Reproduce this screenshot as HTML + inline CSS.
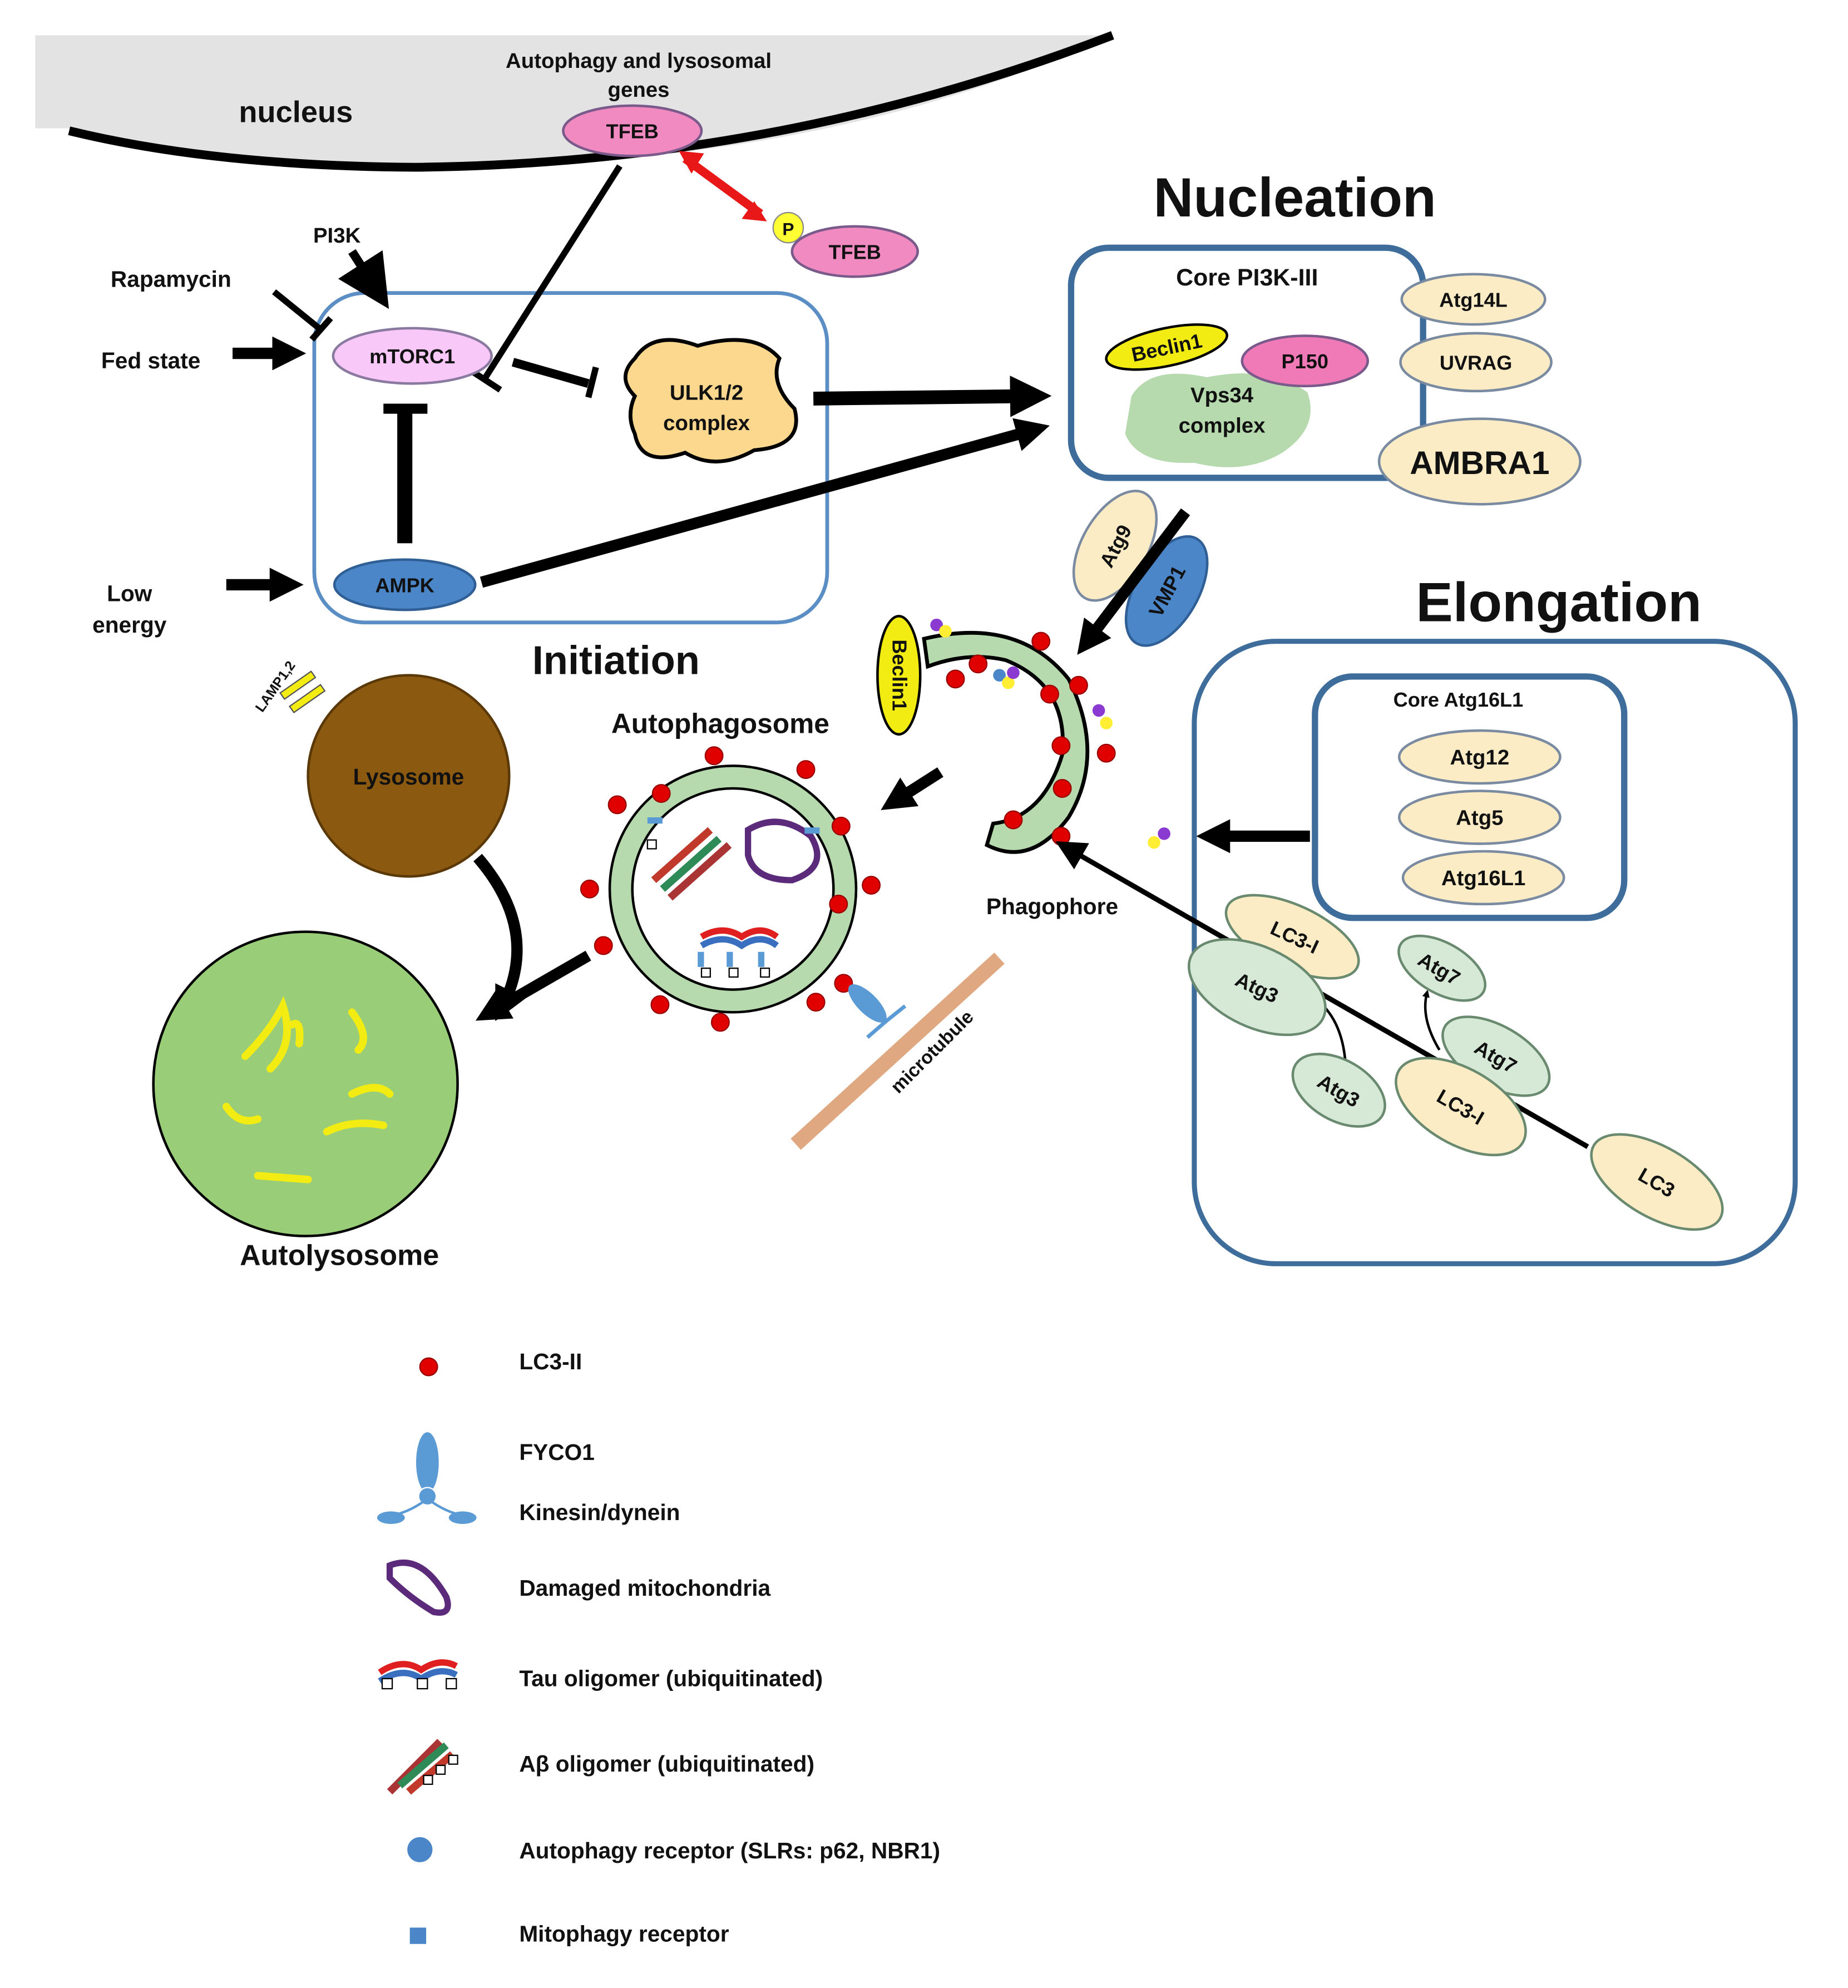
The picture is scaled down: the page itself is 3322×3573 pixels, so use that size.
<!DOCTYPE html>
<html><head><meta charset="utf-8"><style>
html,body{margin:0;padding:0;background:#fff}
svg{display:block}
text{font-family:"Liberation Sans",sans-serif;font-weight:bold;fill:#111}
</style></head><body>
<svg width="3322" height="3573" viewBox="0 0 1470 1581" xmlns="http://www.w3.org/2000/svg">
<defs>
<marker id="ah" viewBox="0 0 10 10" refX="5" refY="5" markerWidth="3" markerHeight="3" orient="auto"><path d="M0,0 L10,5 L0,10 z" fill="#000"/></marker>
<marker id="ahs" viewBox="0 0 10 10" refX="5" refY="5" markerWidth="6" markerHeight="6" orient="auto"><path d="M0,0 L10,5 L0,10 z" fill="#000"/></marker>
</defs>
<!-- nucleus -->
<path d="M28,28 L885,28 Q640,140 300,132 Q150,126 55,102 L28,102 Z" fill="#e3e3e3"/>
<path d="M55,104 Q170,132 330,133 Q620,130 885,28" fill="none" stroke="#000" stroke-width="7"/>
<text x="190" y="97" font-size="24">nucleus</text>
<text x="508" y="54" font-size="17" text-anchor="middle">Autophagy  and lysosomal</text>
<text x="508" y="77" font-size="17" text-anchor="middle">genes</text>
<ellipse cx="503" cy="104" rx="55" ry="20" fill="#f08ac0" stroke="#7a5a8a" stroke-width="2"/>
<text x="503" y="110" font-size="16" text-anchor="middle">TFEB</text>
<!-- red arrow -->
<path d="M545,126 L605,170" stroke="#e81818" stroke-width="7"/>
<path d="M540,120 L560,122 L550,138 Z M610,176 L590,174 L600,160 Z" fill="#e81818"/>
<circle cx="627" cy="181" r="12" fill="#ffff33" stroke="#888"/><text x="627" y="187" font-size="14" text-anchor="middle">P</text>
<ellipse cx="680" cy="200" rx="50" ry="20" fill="#f08ac0" stroke="#7a5a8a" stroke-width="2"/>
<text x="680" y="206" font-size="16" text-anchor="middle">TFEB</text>
<!-- Initiation box -->
<rect x="250" y="233" width="408" height="262" rx="40" fill="none" stroke="#5b8ec4" stroke-width="3"/>
<text x="490" y="536" font-size="32" text-anchor="middle">Initiation</text>
<line x1="493" y1="132" x2="385" y2="302" stroke="#000" stroke-width="5"/>
<line x1="372" y1="293" x2="398" y2="310" stroke="#000" stroke-width="5"/>
<text x="268" y="193" font-size="17" text-anchor="middle">PI3K</text>
<line x1="280" y1="200" x2="298" y2="228" stroke="#000" stroke-width="7" marker-end="url(#ahs)"/>
<text x="136" y="228" font-size="18" text-anchor="middle">Rapamycin</text>
<line x1="218" y1="232" x2="255" y2="262" stroke="#000" stroke-width="5"/>
<line x1="248" y1="270" x2="263" y2="253" stroke="#000" stroke-width="5"/>
<text x="120" y="293" font-size="18" text-anchor="middle">Fed state</text>
<line x1="185" y1="281" x2="230" y2="281" stroke="#000" stroke-width="9" marker-end="url(#ah)"/>
<text x="103" y="478" font-size="18" text-anchor="middle">Low</text>
<text x="103" y="503" font-size="18" text-anchor="middle">energy</text>
<line x1="180" y1="465" x2="228" y2="465" stroke="#000" stroke-width="9" marker-end="url(#ah)"/>
<ellipse cx="328" cy="283" rx="63" ry="22" fill="#f8c8f8" stroke="#8a7aa0" stroke-width="2"/>
<text x="328" y="289" font-size="16" text-anchor="middle">mTORC1</text>
<line x1="408" y1="288" x2="468" y2="305" stroke="#000" stroke-width="7"/>
<line x1="474" y1="292" x2="468" y2="316" stroke="#000" stroke-width="5"/>
<path d="M505,285 Q520,262 555,275 Q600,262 620,285 Q612,305 632,325 Q640,355 600,358 Q570,375 545,360 Q510,372 505,345 Q498,330 505,315 Q490,300 505,285 Z" fill="#fbd88e" stroke="#000" stroke-width="3"/>
<text x="562" y="318" font-size="17" text-anchor="middle">ULK1/2</text>
<text x="562" y="342" font-size="17" text-anchor="middle">complex</text>
<line x1="322" y1="432" x2="322" y2="325" stroke="#000" stroke-width="12"/>
<line x1="305" y1="325" x2="340" y2="325" stroke="#000" stroke-width="8"/>
<ellipse cx="322" cy="465" rx="56" ry="20" fill="#4a86c8" stroke="#2f5f95" stroke-width="2"/>
<text x="322" y="471" font-size="16" text-anchor="middle">AMPK</text>
<line x1="647" y1="317" x2="820" y2="315" stroke="#000" stroke-width="11" marker-end="url(#ah)"/>
<line x1="383" y1="463" x2="822" y2="342" stroke="#000" stroke-width="9" marker-end="url(#ah)"/>
<!-- Nucleation -->
<text x="1030" y="172" font-size="44" text-anchor="middle">Nucleation</text>
<rect x="852" y="197" width="280" height="183" rx="30" fill="#fff" stroke="#3e6d9c" stroke-width="5"/>
<text x="992" y="227" font-size="19" text-anchor="middle" font-weight="normal">Core PI3K-III</text>
<path d="M900,315 Q915,290 960,300 Q1010,290 1040,312 Q1050,340 1020,360 Q990,378 950,368 Q905,370 895,345 Z" fill="#b6d9ae"/>
<text x="972" y="320" font-size="17" text-anchor="middle">Vps34</text>
<text x="972" y="344" font-size="17" text-anchor="middle">complex</text>
<ellipse cx="928" cy="276" rx="49" ry="15" fill="#f3ec12" stroke="#000" stroke-width="2" transform="rotate(-12 928 276)"/>
<text x="928" y="282" font-size="16" text-anchor="middle" transform="rotate(-12 928 276)">Beclin1</text>
<ellipse cx="1038" cy="287" rx="50" ry="20" fill="#f07ab8" stroke="#7a5a8a" stroke-width="2"/>
<text x="1038" y="293" font-size="16" text-anchor="middle">P150</text>
<ellipse cx="1172" cy="238" rx="57" ry="20" fill="#fbecc6" stroke="#7a8aa0" stroke-width="2"/>
<text x="1172" y="244" font-size="16" text-anchor="middle">Atg14L</text>
<ellipse cx="1174" cy="288" rx="60" ry="23" fill="#fbecc6" stroke="#7a8aa0" stroke-width="2"/>
<text x="1174" y="294" font-size="16" text-anchor="middle">UVRAG</text>
<ellipse cx="1177" cy="367" rx="80" ry="34" fill="#fbecc6" stroke="#7a8aa0" stroke-width="2"/>
<text x="1177" y="377" font-size="26" text-anchor="middle">AMBRA1</text>
<!-- Atg9/VMP1 -->
<ellipse cx="887" cy="434" rx="26" ry="48" fill="#fbecc6" stroke="#7a8aa0" stroke-width="2" transform="rotate(30 887 434)"/>
<text x="887" y="440" font-size="16" text-anchor="middle" transform="rotate(-62 887 434)">Atg9</text>
<ellipse cx="928" cy="470" rx="25" ry="48" fill="#4a86c8" stroke="#2f5f95" stroke-width="2" transform="rotate(30 928 470)"/>
<text x="928" y="476" font-size="16" text-anchor="middle" transform="rotate(-62 928 470)">VMP1</text>
<line x1="943" y1="407" x2="865" y2="510" stroke="#000" stroke-width="9" marker-end="url(#ah)"/>
<!-- Phagophore -->
<path d="M735,508 Q810,490 850,540 Q880,600 850,650 Q820,690 785,672 L790,655 Q830,650 845,600 Q850,545 800,525 Q770,518 738,530 Z" fill="#b6d9ae" stroke="#000" stroke-width="3"/>
<ellipse cx="715" cy="537" rx="17" ry="47" fill="#f3ec12" stroke="#000" stroke-width="2"/>
<text x="715" y="537" font-size="16" text-anchor="middle" transform="rotate(90 715 537)" dy="5">Beclin1</text>
<g fill="#e00000" stroke="#900" stroke-width="1">
<circle cx="760" cy="540" r="7"/><circle cx="828" cy="510" r="7"/><circle cx="835" cy="552" r="7"/><circle cx="858" cy="545" r="7"/><circle cx="844" cy="593" r="7"/><circle cx="880" cy="599" r="7"/><circle cx="845" cy="627" r="7"/><circle cx="806" cy="652" r="7"/><circle cx="844" cy="665" r="7"/><circle cx="778" cy="528" r="7"/>
</g>
<g><circle cx="745" cy="497" r="5" fill="#8a3ad0"/><circle cx="752" cy="502" r="5" fill="#ffee33"/><circle cx="795" cy="537" r="5" fill="#4a86c8"/><circle cx="802" cy="543" r="5" fill="#ffee33"/><circle cx="806" cy="535" r="5" fill="#8a3ad0"/><circle cx="874" cy="565" r="5" fill="#8a3ad0"/><circle cx="880" cy="575" r="5" fill="#ffee33"/><circle cx="918" cy="670" r="5" fill="#ffee33"/><circle cx="926" cy="663" r="5" fill="#8a3ad0"/></g>
<text x="837" y="727" font-size="18" text-anchor="middle">Phagophore</text>
<line x1="748" y1="614" x2="712" y2="637" stroke="#000" stroke-width="9" marker-end="url(#ah)"/>
<!-- Autophagosome -->
<text x="573" y="583" font-size="22" text-anchor="middle">Autophagosome</text>
<circle cx="583" cy="707" r="98" fill="#b6d9ae" stroke="#000" stroke-width="2"/>
<circle cx="583" cy="707" r="80" fill="#fff" stroke="#000" stroke-width="2"/>
<g fill="#e00000" stroke="#900" stroke-width="1">
<circle cx="568" cy="601" r="7"/><circle cx="641" cy="612" r="7"/><circle cx="491" cy="640" r="7"/><circle cx="526" cy="631" r="7"/><circle cx="669" cy="657" r="7"/><circle cx="693" cy="704" r="7"/><circle cx="667" cy="719" r="7"/><circle cx="469" cy="707" r="7"/><circle cx="480" cy="752" r="7"/><circle cx="671" cy="782" r="7"/><circle cx="649" cy="797" r="7"/><circle cx="573" cy="813" r="7"/><circle cx="525" cy="799" r="7"/>
</g>
<g stroke-width="6"><line x1="520" y1="700" x2="565" y2="660" stroke="#c0392b"/><line x1="527" y1="707" x2="572" y2="667" stroke="#2e8b57"/><line x1="533" y1="714" x2="580" y2="672" stroke="#a33"/></g>
<path d="M595,660 Q620,645 645,665 Q660,690 630,700 Q600,700 595,680 Z" fill="none" stroke="#5b2a7a" stroke-width="5"/>
<path d="M558,745 Q575,735 590,745 Q605,735 618,745" fill="none" stroke="#e02020" stroke-width="5"/>
<path d="M558,752 Q575,742 590,752 Q605,742 618,752" fill="none" stroke="#3a6fc0" stroke-width="5"/>
<g fill="#fff" stroke="#000"><rect x="558" y="770" width="7" height="7"/><rect x="580" y="770" width="7" height="7"/><rect x="605" y="770" width="7" height="7"/><rect x="515" y="668" width="7" height="7"/></g>
<g fill="#5b9bd5"><rect x="555" y="757" width="5" height="12"/><rect x="578" y="757" width="5" height="12"/><rect x="603" y="757" width="5" height="12"/><rect x="515" y="650" width="12" height="5"/><rect x="640" y="658" width="12" height="5"/></g>
<!-- microtubule -->
<line x1="795" y1="762" x2="633" y2="910" stroke="#e0a880" stroke-width="12"/>
<text x="745" y="840" font-size="15" text-anchor="middle" transform="rotate(-45 745 840)">microtubule</text>
<ellipse cx="690" cy="798" rx="8" ry="20" fill="#5b9bd5" transform="rotate(-45 690 798)"/>
<path d="M705,812 L690,825 M705,812 L720,800" stroke="#5b9bd5" stroke-width="3"/>
<!-- Lysosome -->
<circle cx="325" cy="617" r="80" fill="#8b5a10"/>
<circle cx="325" cy="617" r="80" fill="none" stroke="#5a3808" stroke-width="2"/>
<text x="325" y="624" font-size="18" text-anchor="middle" fill="#444">Lysosome</text>
<g transform="rotate(-35 245 560)"><rect x="232" y="540" width="30" height="6" fill="#f3ec12" stroke="#555"/><rect x="232" y="553" width="30" height="6" fill="#f3ec12" stroke="#555"/></g>
<text x="222" y="548" font-size="11" transform="rotate(-55 222 548)" text-anchor="middle">LAMP1,2</text>
<path d="M380,682 Q430,740 400,800" fill="none" stroke="#000" stroke-width="9" marker-end="url(#ah)"/>
<line x1="468" y1="760" x2="390" y2="805" stroke="#000" stroke-width="9" marker-end="url(#ah)"/>
<!-- Autolysosome -->
<circle cx="243" cy="862" r="121" fill="#9acd78" stroke="#000" stroke-width="2"/>
<g fill="none" stroke="#f3ec12" stroke-width="6" stroke-linecap="round">
<path d="M195,840 Q215,820 225,800 Q235,830 215,850"/><path d="M280,805 Q295,825 285,835"/><path d="M180,880 Q190,895 205,890"/><path d="M260,900 Q280,890 305,895"/><path d="M280,870 Q300,860 310,870"/><path d="M205,935 L245,938"/><path d="M232,815 Q240,810 238,830"/>
</g>
<text x="270" y="1006" font-size="23" text-anchor="middle">Autolysosome</text>
<!-- Elongation -->
<text x="1240" y="494" font-size="44" text-anchor="middle">Elongation</text>
<rect x="950" y="510" width="478" height="495" rx="65" fill="none" stroke="#3e6d9c" stroke-width="4"/>
<rect x="1046" y="538" width="246" height="192" rx="30" fill="#fff" stroke="#3e6d9c" stroke-width="5"/>
<text x="1160" y="562" font-size="16" text-anchor="middle">Core Atg16L1</text>
<ellipse cx="1177" cy="602" rx="64" ry="21" fill="#fbecc6" stroke="#7a8aa0" stroke-width="2"/><text x="1177" y="608" font-size="17" text-anchor="middle">Atg12</text>
<ellipse cx="1177" cy="650" rx="64" ry="21" fill="#fbecc6" stroke="#7a8aa0" stroke-width="2"/><text x="1177" y="656" font-size="17" text-anchor="middle">Atg5</text>
<ellipse cx="1180" cy="698" rx="64" ry="21" fill="#fbecc6" stroke="#7a8aa0" stroke-width="2"/><text x="1180" y="704" font-size="17" text-anchor="middle">Atg16L1</text>
<line x1="1042" y1="665" x2="965" y2="665" stroke="#000" stroke-width="9" marker-end="url(#ah)"/>
<line x1="1263" y1="912" x2="850" y2="675" stroke="#000" stroke-width="4" marker-end="url(#ahs)"/>
<path d="M1070,870 Q1075,810 1040,790" fill="none" stroke="#000" stroke-width="2" marker-end="url(#ah)"/>
<path d="M1145,835 Q1130,810 1135,790" fill="none" stroke="#000" stroke-width="2" marker-end="url(#ah)"/>
<g stroke="#6a8a70" stroke-width="2">
<ellipse cx="1028" cy="745" rx="57" ry="25" fill="#fbecc6" transform="rotate(25 1028 745)"/>
<ellipse cx="1000" cy="785" rx="58" ry="32" fill="#d6e8d6" transform="rotate(25 1000 785)"/>
<ellipse cx="1147" cy="770" rx="38" ry="20" fill="#d6e8d6" transform="rotate(30 1147 770)"/>
<ellipse cx="1190" cy="840" rx="47" ry="24" fill="#d6e8d6" transform="rotate(30 1190 840)"/>
<ellipse cx="1065" cy="867" rx="40" ry="24" fill="#d6e8d6" transform="rotate(30 1065 867)"/>
<ellipse cx="1162" cy="880" rx="57" ry="30" fill="#fbecc6" transform="rotate(30 1162 880)"/>
<ellipse cx="1318" cy="940" rx="58" ry="28" fill="#fbecc6" transform="rotate(30 1318 940)"/>
</g>
<g font-size="16" text-anchor="middle">
<text x="1030" y="751" transform="rotate(25 1030 745)">LC3-I</text>
<text x="1000" y="791" transform="rotate(25 1000 785)">Atg3</text>
<text x="1145" y="776" transform="rotate(30 1145 770)">Atg7</text>
<text x="1190" y="846" transform="rotate(30 1190 840)">Atg7</text>
<text x="1065" y="873" transform="rotate(30 1065 867)">Atg3</text>
<text x="1162" y="886" transform="rotate(30 1162 880)">LC3-I</text>
<text x="1318" y="946" transform="rotate(30 1318 940)">LC3</text>
</g>
<!-- Legend -->
<g font-size="18">
<circle cx="341" cy="1087" r="7" fill="#e00000" stroke="#900"/><text x="413" y="1089">LC3-II</text>
<ellipse cx="340" cy="1163" rx="9" ry="24" fill="#5b9bd5"/><circle cx="340" cy="1190" r="7" fill="#5b9bd5" stroke="#fff"/>
<path d="M340,1192 Q325,1203 312,1205 M340,1192 Q355,1203 368,1205" stroke="#5b9bd5" stroke-width="2" fill="none"/>
<ellipse cx="311" cy="1207" rx="11" ry="5" fill="#5b9bd5"/><ellipse cx="368" cy="1207" rx="11" ry="5" fill="#5b9bd5"/>
<text x="413" y="1161">FYCO1</text><text x="413" y="1209">Kinesin/dynein</text>
<path d="M310,1245 Q335,1235 355,1270 Q360,1285 345,1282 Q325,1270 310,1255 Z" fill="none" stroke="#5b2a7a" stroke-width="5"/>
<text x="413" y="1269">Damaged mitochondria</text>
<path d="M302,1330 Q320,1318 335,1328 Q350,1318 363,1325" fill="none" stroke="#e02020" stroke-width="5"/>
<path d="M302,1337 Q320,1325 335,1335 Q350,1325 363,1332" fill="none" stroke="#3a6fc0" stroke-width="5"/>
<g fill="#fff" stroke="#000"><rect x="304" y="1335" width="8" height="8"/><rect x="332" y="1335" width="8" height="8"/><rect x="355" y="1335" width="8" height="8"/></g>
<text x="413" y="1341">Tau oligomer (ubiquitinated)</text>
<g stroke-width="6"><line x1="310" y1="1425" x2="350" y2="1385" stroke="#a33"/><line x1="318" y1="1420" x2="355" y2="1388" stroke="#2e8b57"/><line x1="325" y1="1425" x2="360" y2="1395" stroke="#c0392b"/></g>
<g fill="#fff" stroke="#000"><rect x="337" y="1412" width="7" height="7"/><rect x="347" y="1404" width="7" height="7"/><rect x="357" y="1396" width="7" height="7"/></g>
<text x="413" y="1409">Aβ oligomer (ubiquitinated)</text>
<circle cx="334" cy="1471" r="10" fill="#4a86c8"/><text x="413" y="1478">Autophagy receptor (SLRs: p62,  NBR1)</text>
<rect x="326" y="1533" width="13" height="13" fill="#4a86c8"/><text x="413" y="1544">Mitophagy receptor</text>
</g>
</svg>
</body></html>
